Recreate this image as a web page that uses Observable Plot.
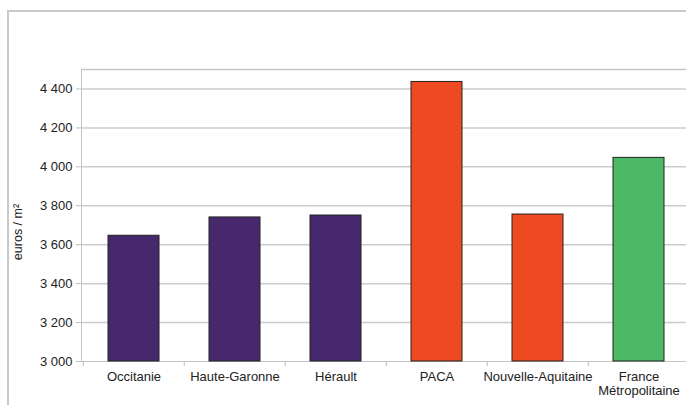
<!DOCTYPE html>
<html>
<head>
<meta charset="utf-8">
<script src="https://cdn.jsdelivr.net/npm/d3@7"></script>
<script src="https://cdn.jsdelivr.net/npm/@observablehq/plot@0.6"></script>
<style>
  html, body { margin: 0; padding: 0; background: #fff; overflow: hidden; width: 686px; height: 405px; }
  #wrap { position: relative; width: 686px; height: 405px; overflow: hidden; font-family: "Liberation Sans", Arial, sans-serif; }
  #border { position: absolute; left: 7px; top: 10px; width: 700px; height: 420px; border-left: 2px solid #c8c8c8; border-top: 2px solid #c8c8c8; box-sizing: border-box; }
  #chart { position: absolute; left: 0; top: 0; width: 700px; }
  #chart svg { max-width: none !important; }
  #ylabel { position: absolute; left: 18px; top: 232px; transform: translate(-50%, -50%) rotate(-90deg); font-size: 12.5px; color: #222; white-space: nowrap; }
</style>
</head>
<body>
<div id="wrap">
  <div id="border"></div>
  <div id="chart"></div>
  <div id="ylabel">euros / m²</div>
</div>
<script>
const categories = ["Occitanie", "Haute-Garonne", "Hérault", "PACA", "Nouvelle-Aquitaine", "France\nMétropolitaine"];
const values = [3646, 3740, 3750, 4436, 3755, 4046];
const groups = ["occ", "occ", "occ", "other", "other", "france"];
const yTicks = [3000, 3200, 3400, 3600, 3800, 4000, 4200, 4400];
const gridValues = [3200, 3400, 3600, 3800, 4000, 4200, 4400, 4500];

const data = categories.map((c, i) => ({category: c, value: values[i], group: groups[i]}));
const fr = d3.formatLocale({decimal: ",", thousands: " ", grouping: [3], currency: ["", " €"]});
const fmt = fr.format(",d");

const width = 700, height = 405;
const mL = 81, mR = 10, mT = 69, mB = 44;
const step = (width - mL - mR) / categories.length;

const plot = Plot.plot({
  width, height,
  marginLeft: mL, marginRight: mR, marginTop: mT, marginBottom: mB,
  style: {fontFamily: "Liberation Sans, Arial, sans-serif", fontSize: "13px", color: "#222", background: "transparent", maxWidth: "none"},
  x: {domain: categories, paddingInner: 0.5, paddingOuter: 0.25, label: null},
  y: {domain: [3000, 4500], label: null},
  color: {domain: ["occ", "other", "france"], range: ["#48286c", "#ee4a22", "#4cb966"]},
  marks: [
    Plot.ruleY(gridValues, {stroke: "#cccccc", strokeWidth: 1.5}),
    Plot.frame({stroke: "#c4c4c4", strokeWidth: 1}),
    Plot.axisY({ticks: yTicks, tickFormat: fmt, tickSize: 5, tickPadding: 4, stroke: "#bbbbbb", fontSize: 13, label: null}),
    Plot.axisX({tickSize: 0, tickPadding: 9, fontSize: 13, lineHeight: 1.1, label: null}),
    Plot.ruleX(categories, {x: d => d, dx: -step / 2, y1: 3000, y2: 3000, insetBottom: -5, stroke: "#bbbbbb"}),
    Plot.barY(data, {x: "category", y1: 3000, y2: "value", fill: "group", stroke: "#222", strokeWidth: 1})
  ]
});
document.getElementById("chart").appendChild(plot);
</script>
</body>
</html>
